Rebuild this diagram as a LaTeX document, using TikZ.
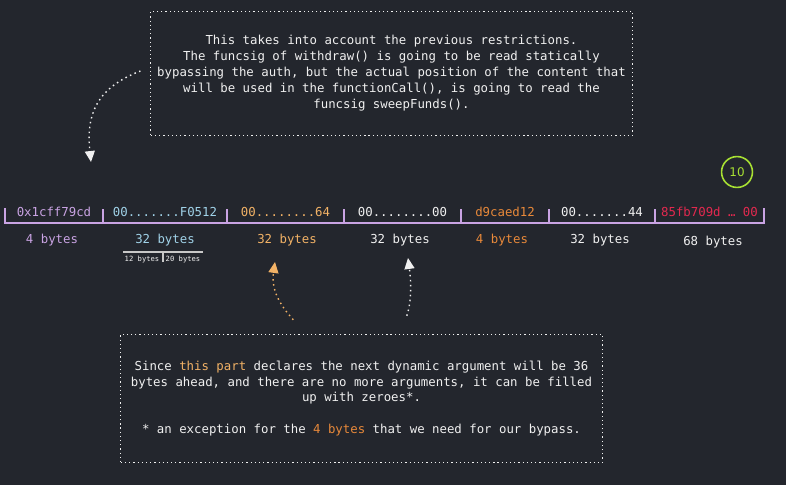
\documentclass[tikz,border=0pt]{standalone}
\usepackage{fontspec}
\setmainfont{DejaVu Sans Mono}
\newfontfamily\handfont{DejaVu Sans}
\usetikzlibrary{arrows.meta}

\definecolor{bgdark}{HTML}{23262D}
\definecolor{textwhite}{HTML}{F0F0F0}
\definecolor{lavender}{HTML}{C9A3E3}
\definecolor{skyblue}{HTML}{A0D2E8}
\definecolor{peach}{HTML}{F2B266}
\definecolor{amber}{HTML}{E8893A}
\definecolor{crimson}{HTML}{E3294F}
\definecolor{lime}{HTML}{A8E033}
\definecolor{splitgray}{HTML}{C8C8C8}

\begin{document}
\begin{tikzpicture}
[
	x	= 1bp,	% one unit is one pixel of the reference
	y	= -1bp,	% y grows downwards, as in the reference
	%
	%
	% ----------- options for the texts --------------
	every node/.style =
	{
		text		= textwhite,
		font		= \fontsize{12.4}{16}\selectfont,
		inner sep	= 0pt
	},
	%
	note/.style =
	{
		draw			= textwhite,
		line width		= 1pt,
		dash pattern	= on 1.2pt off 3pt,
		align			= center
	},
	%
	small/.style =
	{
		font	= \fontsize{7.2}{8}\selectfont
	},
	%
	badge/.style =
	{
		draw			= lime,
		text			= lime,
		circle,
		line width		= 1.6pt,
		minimum size	= 31pt,
		font			= \handfont\fontsize{12}{14}\selectfont
	},
	%
	% ----------- options for the lines --------------
	row/.style =
	{
		draw		= lavender,
		line width	= 2pt
	},
	%
	split/.style =
	{
		draw		= splitgray,
		line width	= 1.2pt
	},
	%
	pointer/.style =
	{
		draw			= textwhite,
		line width		= 1.4pt,
		dash pattern	= on 1.5pt off 3.5pt,
		-{Triangle[width = 10pt, length = 11pt]}
	}
]



% background
\fill[bgdark] (0,0) rectangle (786,485);
\useasboundingbox (0,0) rectangle (786,485);



% notes
\node[note, minimum width = 483, minimum height = 125] (restrictions) at (391.5,73.5)
{
	This takes into account the previous restrictions.\\
	The funcsig of withdraw() is going to be read statically\\
	bypassing the auth, but the actual position of the content that\\
	will be used in the functionCall(), is going to read the\\
	funcsig sweepFunds().
};

\node[note, minimum width = 483, minimum height = 129] (bypass) at (361.5,398.5)
{
	Since \textcolor{peach}{this part} declares the next dynamic argument will be 36\\
	bytes ahead, and there are no more arguments, it can be filled\\
	up with zeroes*.\\[16pt]
	* an exception for the \textcolor{amber}{4 bytes} that we need for our bypass.
};



% byte row
\draw[row] (5,208) -- (5,223) -- (764,223) -- (764,208)
	(103,223) -- (103,209)
	(227,223) -- (227,209)
	(344,223) -- (344,209)
	(461,223) -- (461,209)
	(549,223) -- (549,209)
	(655,223) -- (655,209);

\node[text = lavender]	(sig)		at (54,212)		{0x1cff79cd};
\node[text = skyblue]	(offset)	at (165,212)	{00.......F0512};
\node[text = peach]		(length)	at (285.5,212)	{00........64};
\node					(padding)	at (402.5,212)	{00........00};
\node[text = amber]		(selector)	at (505,212)	{d9caed12};
\node					(count)		at (602,212)	{00.......44};
\node[text = crimson]	(payload)	at (709.5,212)	{85fb709d … 00};

\node[text = lavender]	(sigsize)		at (52,240)		{4 bytes};
\node[text = skyblue]	(offsetsize)	at (165,240)	{32 bytes};
\node[text = peach]		(lengthsize)	at (287,240)	{32 bytes};
\node					(paddingsize)	at (400,240)	{32 bytes};
\node[text = amber]		(selectorsize)	at (502,240)	{4 bytes};
\node					(countsize)		at (600,240)	{32 bytes};
\node					(payloadsize)	at (713,242)	{68 bytes};



% split of the offset word
\draw[split] (123,252) -- (203,252) (163,252) -- (163,262);
\node[small] (head) at (142,260) {12 bytes};
\node[small] (tail) at (183,260) {20 bytes};



% step number
\node[badge] (stepten) at (737,172) {10};



% pointers
\coordinate (sigtip)	at (91,162);
\coordinate (lengthtip)	at (275,262);
\coordinate (paddingtip)at (408,258);

\draw[pointer] ([xshift = -10pt, yshift = 2.5pt]restrictions.west)
	.. controls (96,88) and (86,115) .. (sigtip);

\draw[pointer, draw = peach] ([xshift = -68.5pt, yshift = 14pt]bypass.north)
	.. controls (280,305) and (271,290) .. (lengthtip);

\draw[pointer] ([xshift = 45.5pt, yshift = 18pt]bypass.north)
	.. controls (412,300) and (411,280) .. (paddingtip);



\end{tikzpicture}
\end{document}
